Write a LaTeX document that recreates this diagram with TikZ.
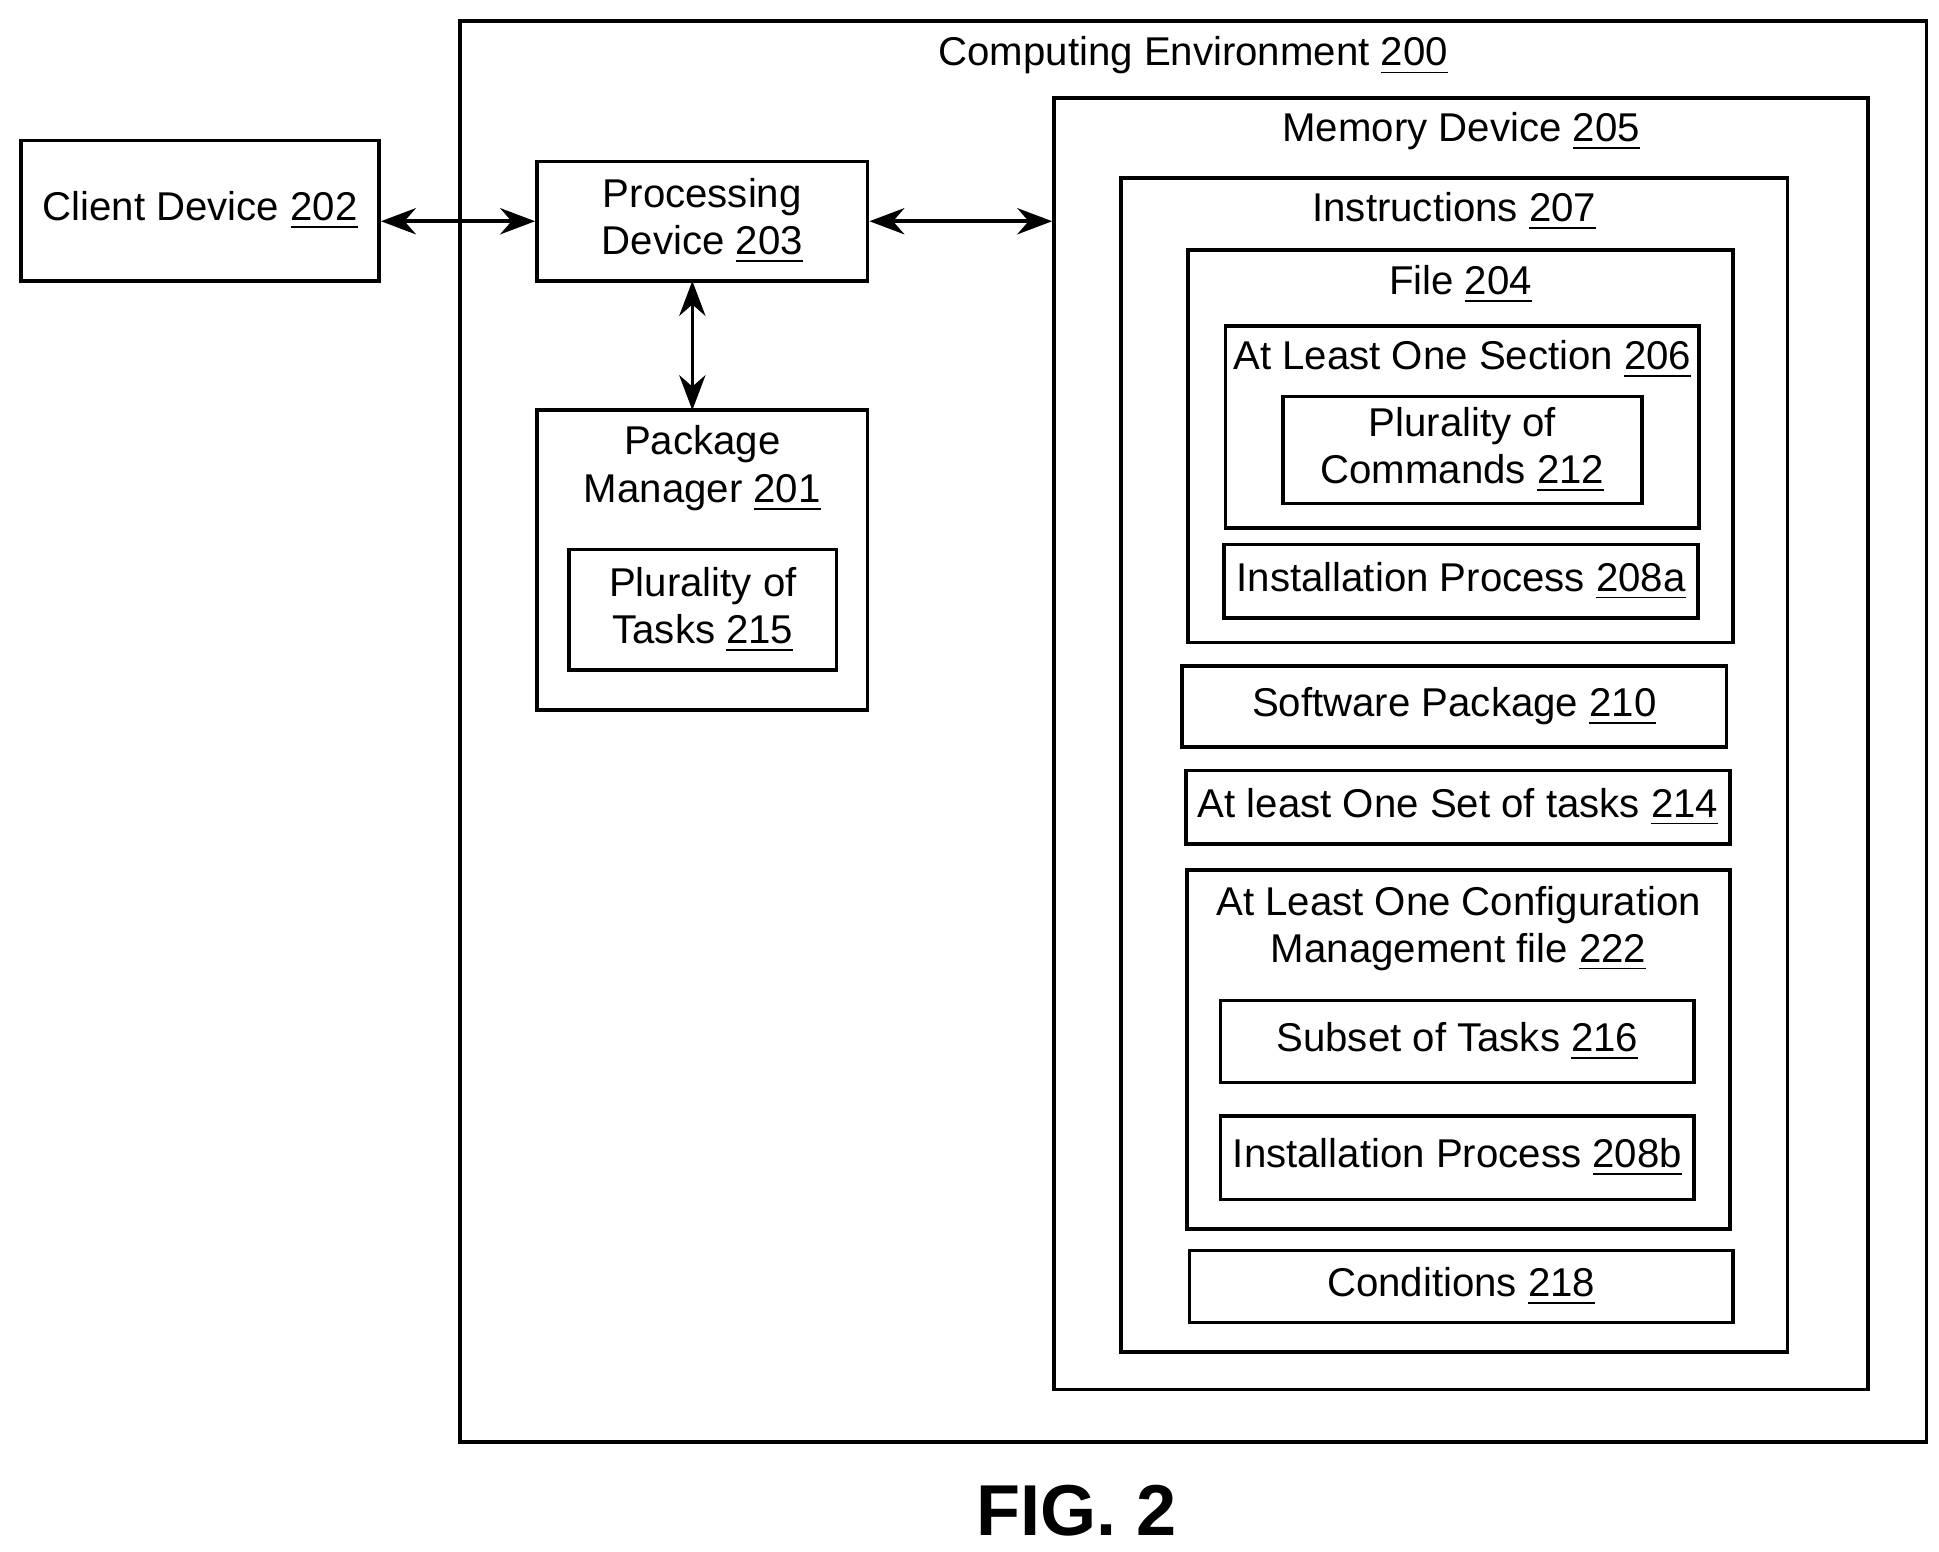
\documentclass[tikz,border=0pt]{standalone}
\usepackage{fontspec}
\setmainfont{Liberation Sans}
\usetikzlibrary{arrows.meta}
\begin{document}
\begin{tikzpicture}[every node/.style={font=\fontsize{9.2}{10.8}\selectfont},
  box/.style={draw,line width=0.85pt,shape=rectangle,inner sep=0pt},
  lbl/.style={align=center,inner sep=0pt},
  link/.style={{Stealth[length=8pt,width=6pt]}-{Stealth[length=8pt,width=6pt]},line width=0.8pt}]
\useasboundingbox (0,0) rectangle (15.6,-12.48);
% outer devices
\path (1.61,-1.695) node (client) [box,minimum width=2.88cm,minimum height=1.13cm] {Client Device \underline{202}};
\path (9.60,-5.885) node (env) [box,minimum width=11.80cm,minimum height=11.43cm] {};
\path (9.60,-0.45) node (envl) [lbl] {Computing Environment \underline{200}};
\path (5.65,-1.78) node (proc) [box,minimum width=2.66cm,minimum height=0.96cm,align=center] {Processing\\Device \underline{203}};
\path (5.65,-4.505) node (pkg) [box,minimum width=2.66cm,minimum height=2.41cm] {};
\path (5.65,-3.77) node (pkgl) [lbl] {Package\\Manager \underline{201}};
\path (5.655,-4.905) node (tasks) [box,minimum width=2.15cm,minimum height=0.97cm,align=center] {Plurality of\\Tasks \underline{215}};
% memory
\path (11.755,-5.985) node (mem) [box,minimum width=6.55cm,minimum height=10.39cm] {};
\path (11.755,-1.06) node (meml) [lbl] {Memory Device \underline{205}};
\path (11.70,-6.155) node (instr) [box,minimum width=5.36cm,minimum height=9.45cm] {};
\path (11.70,-1.70) node (instrl) [lbl] {Instructions \underline{207}};
\path (11.75,-3.59) node (file) [box,minimum width=4.38cm,minimum height=3.16cm] {};
\path (11.75,-2.29) node (filel) [lbl] {File \underline{204}};
\path (11.765,-3.435) node (sect) [box,minimum width=3.81cm,minimum height=1.63cm] {};
\path (11.765,-2.89) node (sectl) [lbl] {At Least One Section \underline{206}};
\path (11.765,-3.62) node (cmd) [box,minimum width=2.89cm,minimum height=0.86cm,align=center] {Plurality of\\Commands \underline{212}};
\path (11.755,-4.675) node (insta) [box,minimum width=3.81cm,minimum height=0.59cm] {Installation Process \underline{208a}};
\path (11.70,-5.685) node (sw) [box,minimum width=4.38cm,minimum height=0.65cm] {Software Package \underline{210}};
\path (11.73,-6.495) node (set) [box,minimum width=4.38cm,minimum height=0.59cm] {At least One Set of tasks \underline{214}};
\path (11.735,-8.445) node (cfg) [box,minimum width=4.37cm,minimum height=2.89cm] {};
\path (11.735,-7.47) node (cfgl) [lbl] {At Least One Configuration\\Management file \underline{222}};
\path (11.725,-8.38) node (sub) [box,minimum width=3.81cm,minimum height=0.66cm] {Subset of Tasks \underline{216}};
\path (11.725,-9.315) node (instb) [box,minimum width=3.81cm,minimum height=0.67cm] {Installation Process \underline{208b}};
\path (11.755,-10.35) node (cond) [box,minimum width=4.37cm,minimum height=0.58cm] {Conditions \underline{218}};
\path (8.66,-12.15) node (fig) [lbl,font=\bfseries\fontsize{16.5}{20}\selectfont] {FIG. 2};
% connectors
\coordinate (procin) at (proc.west);
\coordinate (memin) at (proc.east -| mem.west);
\coordinate (pkgtop) at (5.57,-3.30);
\coordinate (procbot) at (5.57,-2.26);
\draw [link] (client.east |- procin) -- (procin);
\draw [link] (proc.east) -- (memin);
\draw [link] (procbot) -- (pkgtop);
\end{tikzpicture}
\end{document}
